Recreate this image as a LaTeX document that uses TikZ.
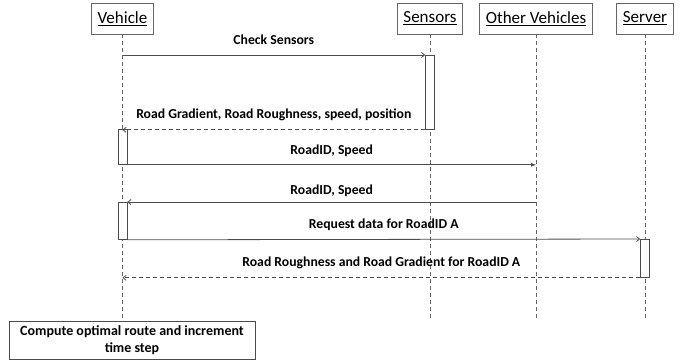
\documentclass[tikz,border=0pt]{standalone}
\usepackage{fontspec}
\setmainfont{Carlito}
\usetikzlibrary{arrows.meta}
\usetikzlibrary{positioning}

\begin{document}
\begin{tikzpicture}[x=1pt,y=-1pt,
    actor/.style={draw=black!60,line width=0.8pt,fill=white,minimum height=31pt,inner xsep=6pt,font=\fontsize{17}{20}\selectfont},
    life/.style={draw=black!60,line width=0.8pt,dash pattern=on 4pt off 3pt},
    act/.style={draw=black!70,line width=0.8pt,fill=white,minimum width=9pt,inner sep=0pt,anchor=north},
    msg/.style={draw=black!70,line width=0.8pt,-{Straight Barb[length=3pt,width=5pt]}},
    sync/.style={draw=black!70,line width=0.8pt,-{Latex[length=5pt,width=4pt]}},
    ret/.style={msg,dash pattern=on 4pt off 3pt},
    lbl/.style={midway,yshift=15pt,font=\bfseries\fontsize{13.7}{16}\selectfont}]
  \useasboundingbox (0,0) rectangle (684,362);

  % participants
  \node[actor] (veh) at (122.5,18.5) {\underline{Vehicle}};
  \node[actor] (sen) at (430,18.5) {\underline{Sensors}};
  \node[actor] (oth) at (536,18.5) {\underline{Other Vehicles}};
  \node[actor] (srv) at (645,18.5) {\underline{Server}};

  \node[draw=black!70,line width=0.8pt,minimum width=246pt,minimum height=38pt,align=center,
        font=\bfseries\fontsize{14}{17}\selectfont] (comp) at (132,340)
        {Compute optimal route and increment\\time step};

  % lifelines
  \foreach \a in {veh,sen,oth,srv}
    \draw[life] (\a.south) -- (\a.south |- comp.north);

  % activations
  \node[act,minimum height=74pt] (sen1) at (sen.south |- 0,55) {};
  \node[act,minimum height=35pt] (veh1) at (veh.south |- 0,129) {};
  \node[act,minimum height=37pt] (veh2) at (veh.south |- 0,202) {};
  \node[act,minimum height=38pt] (srv1) at (srv.south |- 0,239) {};

  % messages
  \draw[msg] (veh.south |- sen1.north) -- (sen1.north west)
    node[lbl] {Check Sensors};
  \draw[ret] (sen1.south west) -- (veh.south |- sen1.south)
    node[lbl] {Road Gradient, Road Roughness, speed, position};
  \draw[sync] (veh1.south east) -- (oth.south |- veh1.south)
    node[lbl,yshift=-1pt] {RoadID, Speed};
  \draw[msg] (oth.south |- veh2.north) -- (veh2.north east)
    node[lbl,yshift=-4pt] {RoadID, Speed};
  \draw[msg] (veh2.south east) -- (srv1.north west)
    node[lbl] {Request data for RoadID A};
  \draw[ret] (srv1.south west) -- (veh.south |- srv1.south)
    node[lbl] {Road Roughness and Road Gradient for RoadID A};
\end{tikzpicture}
\end{document}
